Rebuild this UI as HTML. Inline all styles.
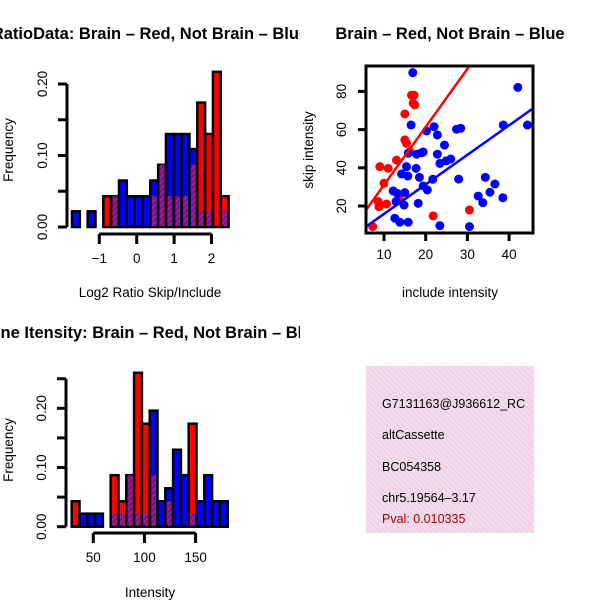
<!DOCTYPE html>
<html><head><meta charset="utf-8"><style>
html,body{margin:0;padding:0;background:#fff}
svg{display:block;font-family:"Liberation Sans",sans-serif}
</style></head><body>
<svg id="s" width="600" height="600" viewBox="0 0 600 600" xmlns="http://www.w3.org/2000/svg">
<defs>
<pattern id="pp" width="4" height="4" patternUnits="userSpaceOnUse" patternTransform="rotate(45)">
<rect width="4" height="4" fill="#a01aa0"/><rect width="2" height="4" fill="#7a1080"/></pattern>
<pattern id="pk" width="4" height="4" patternUnits="userSpaceOnUse" patternTransform="rotate(-45)">
<rect width="4" height="4" fill="#f8d8f4"/><rect width="1.2" height="4" fill="#e0d8d0"/></pattern>
<clipPath id="bx"><rect x="366" y="366" width="168" height="167"/></clipPath>
<clipPath id="sc"><rect x="366" y="66" width="167" height="167"/></clipPath>
<clipPath id="lp"><rect x="0" y="0" width="300" height="600"/></clipPath>
</defs>
<g id="p1"></g>
<g id="p2"></g>
<g id="p3"></g>
<g>
<rect x="366" y="366" width="168" height="167" fill="url(#pk)"/>
<g clip-path="url(#bx)" font-size="12.5">
<text x="382" y="408">G7131163@J936612_RC</text>
<text x="382" y="439">altCassette</text>
<text x="382" y="471">BC054358</text>
<text x="382" y="502">chr5.19564–3.17</text>
<text x="382" y="523" fill="#b00000">Pval: 0.010335</text>
</g></g>
</svg>
<script>
// Histogram 1 data (frequency per bin)
const h1Red=[0,0,0,0,.043,.043,0,0,0,0,.043,.087,.043,.043,.043,.087,.174,.13,.217,.043];
const h1Blue=[.022,0,.022,0,0,.043,.065,.043,.043,.043,.065,.087,.13,.13,.13,.109,.022,.022,0,.022];
const h1XTicks=[-1,0,1,2];
const h1YTicks=[0,0.05,0.10,0.15,0.20];
const h1YLabels=["0.00","","0.10","","0.20"];
// Histogram 3 data
const h3Red=[.043,0,0,0,0,.087,.043,.087,.26,.174,.087,0,.043,0,0,.174,0,0,0,0];
const h3Blue=[0,.022,.022,.022,0,.022,.022,.087,.022,.022,.196,.043,.065,.13,.087,.022,.043,.087,.043,.043];
const h3XTicks=[50,100,150];
const h3YTicks=[0,0.05,0.10,0.15,0.20,0.25];
const h3YLabels=["0.00","","0.10","","0.20",""];
// Scatter data
const redX=[7.3,8.8,8.6,9.0,11.0,10.0,10.6,13.0,13.7,15.0,15.0,15.4,16.2,16.6,17.2,17.0,17.4,21.8,30.5];
const redY=[9.2,19.6,22.3,40.6,39.7,31.9,21,44,25.2,68.2,54.6,52.8,48.4,78,78,73.8,72.9,14.8,17.9];
const blueX=[16.9,42.1,44.4,38.6,16.5,22.0,20.2,22.8,27.4,28.4,24.5,15.8,17.8,19.0,19.4,22.8,23.4,24.9,26.0,15.4,17.7,14.2,15.7,18.5,21.7,27.9,34.3,36.6,35.4,32.6,33.7,38.5,19.4,20.4,12.2,13.2,15.0,12.9,14.8,18.2,12.6,13.8,15.8,23.4,30.5];
const blueY=[89.8,82.1,62.4,62.4,62.4,61.5,59.3,57.2,60.2,60.7,51.9,47.6,47.1,47.9,48.3,47.1,42.3,43.6,44.6,40.6,39.7,36.8,35.7,35.0,34.0,34.1,35.0,31.5,27.2,25.2,21.7,24.3,30.5,28.4,27.9,26.6,27.0,22.3,20.5,21.4,13.6,11.5,11.5,9.7,9.2];
const fitRed=[0.6,3.04]; // intercept, slope
const fitBlue=[0.4,1.546];
const scXTicks=[10,20,30,40];
const scYTicks=[20,40,60,80];

const NS="http://www.w3.org/2000/svg";
const FS=13.5;
function mk(p,t,a){const e=document.createElementNS(NS,t);for(const k in a)e.setAttribute(k,a[k]);p.appendChild(e);return e;}

function hist(g,red,blue,x0,bw,sy,y0,key){
  for(let i=0;i<red.length;i++){
    const r=red[i],b=blue[i],hi=Math.max(r,b),lo=Math.min(r,b);
    if(hi<=0)continue;
    const x=x0+i*bw;
    const big=mk(g,'rect',{x:x,y:sy(hi),width:bw,height:y0-sy(hi),fill:r>=b?'#ff0000':'#0000ff',stroke:'#000','stroke-width':2.5});
    
    
    if(lo>0){
      const o=mk(g,'rect',{x:x+1.5,y:sy(lo),width:bw-3,height:y0-sy(lo)-1,fill:'url(#pp)'});
      
      
    }
  }
}
function yaxis(g,ticks,labels,sy,ax,key){
  mk(g,'line',{x1:ax,x2:ax,y1:sy(ticks[0]),y2:sy(ticks[ticks.length-1]),stroke:'#000','stroke-width':3});
  ticks.forEach((t,i)=>{
    mk(g,'line',{x1:ax-9,x2:ax,y1:sy(t),y2:sy(t),stroke:'#000','stroke-width':3});
    if(labels[i]){const tx=mk(g,'text',{x:ax-24,y:sy(t),'font-size':FS,'text-anchor':'middle',transform:`rotate(-90 ${ax-24} ${sy(t)})`,dy:4});tx.textContent=labels[i];
    
    }
  });
}
function xaxis(g,ticks,sx,ay,key){
  mk(g,'line',{x1:sx(ticks[0]),x2:sx(ticks[ticks.length-1]),y1:ay,y2:ay,stroke:'#000','stroke-width':3});
  ticks.forEach(t=>{
    mk(g,'line',{x1:sx(t),x2:sx(t),y1:ay,y2:ay+10,stroke:'#000','stroke-width':3});
    const tx=mk(g,'text',{x:sx(t),y:ay+29,'font-size':FS,'text-anchor':'middle'});tx.textContent=String(t).replace('-','−');
    
    
  });
}
function label(g,x,y,txt,opt,name){const t=mk(g,'text',Object.assign({x:x,y:y,'font-size':FS,'text-anchor':'middle'},opt||{}));t.textContent=txt;
  
  return t;}

// Plot 1
(function(){
  const g=document.getElementById('p1');
  const y0=227, sy=v=>y0-v*715;
  const sx=v=>136.7+v*37.4;
  hist(g,h1Red,h1Blue,72,7.83,sy,y0,'ratio');
  yaxis(g,h1YTicks,h1YLabels,sy,67,'ratio');
  xaxis(g,h1XTicks,sx,234,'ratio');
  label(g,150,297,'Log2 Ratio Skip/Include',{},'ratio-x-axis-title');
  label(g,13,150,'Frequency',{transform:'rotate(-90 13 150)'},'ratio-y-axis-title');
  label(g,150,39,'RatioData: Brain – Red, Not Brain – Blue',{'font-size':16.5,'font-weight':'bold','clip-path':'url(#lp)'},'ratio-title');
})();
// Plot 2
(function(){
  const g=document.getElementById('p2');
  const sx=v=>384+(v-10)*4.17, sy=v=>206-(v-20)*1.91;
  const c=mk(g,'g',{'clip-path':'url(#sc)'});
  redX.forEach((x,i)=>{const e=mk(c,'circle',{cx:sx(x),cy:sy(redY[i]),r:4.5,fill:'#ff0000'});
    
    });
  blueX.forEach((x,i)=>{const e=mk(c,'circle',{cx:sx(x),cy:sy(blueY[i]),r:4.5,fill:'#0000ff'});
    
    });
  [[fitRed,'#ff0000','brain-fit-line'],[fitBlue,'#0000ff','not-brain-fit-line']].forEach(([f,col,n])=>{
    const xa=0,xb=60;
    const l=mk(c,'line',{x1:sx(xa),y1:sy(f[0]+f[1]*xa),x2:sx(xb),y2:sy(f[0]+f[1]*xb),stroke:col,'stroke-width':2.5});
    
    
  });
  mk(g,'rect',{x:366,y:66,width:167,height:167,fill:'none',stroke:'#000','stroke-width':3});
  scXTicks.forEach(t=>{mk(g,'line',{x1:sx(t),x2:sx(t),y1:233,y2:241,stroke:'#000','stroke-width':3});
    label(g,sx(t),259,String(t),{},'scatter-x-tick-label');});
  scYTicks.forEach(t=>{mk(g,'line',{x1:358,x2:366,y1:sy(t),y2:sy(t),stroke:'#000','stroke-width':3});
    label(g,342,sy(t),String(t),{transform:`rotate(-90 342 ${sy(t)})`,dy:4},'scatter-y-tick-label');});
  label(g,450,297,'include intensity',{},'scatter-x-axis-title');
  label(g,313,150,'skip intensity',{transform:'rotate(-90 313 150)'},'scatter-y-axis-title');
  label(g,450,39,'Brain – Red, Not Brain – Blue',{'font-size':16.5,'font-weight':'bold'},'scatter-title');
})();
// Plot 3
(function(){
  const g=document.getElementById('p3');
  const y0=526.7, sy=v=>y0-v*592;
  const sx=v=>93.3+(v-50)*1.023;
  hist(g,h3Red,h3Blue,71.7,7.8,sy,y0,'intensity');
  yaxis(g,h3YTicks,h3YLabels,sy,66,'intensity');
  xaxis(g,h3XTicks,sx,533,'intensity');
  label(g,150,597,'Intensity',{},'intensity-x-axis-title');
  label(g,13,450,'Frequency',{transform:'rotate(-90 13 450)'},'intensity-y-axis-title');
  label(g,150,338,'Gene Itensity: Brain – Red, Not Brain – Blue',{'font-size':16.5,'font-weight':'bold','clip-path':'url(#lp)'},'intensity-title');
})();
</script>
</body></html>
